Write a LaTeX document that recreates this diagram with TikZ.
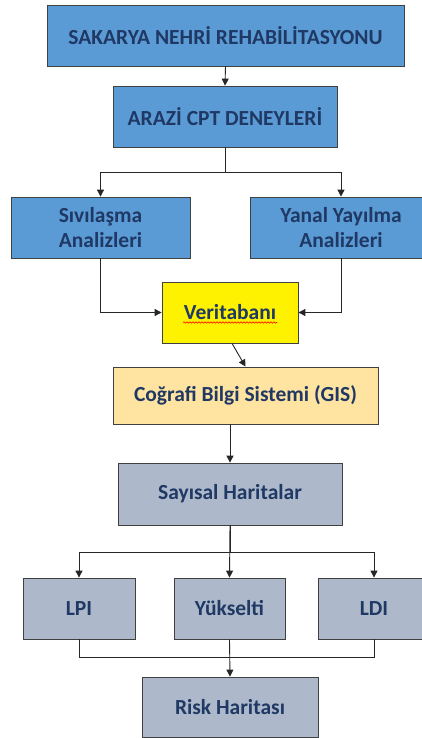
\documentclass[tikz,border=0pt]{standalone}
\usepackage{fontspec}
\setmainfont{Carlito}
\usetikzlibrary{arrows.meta, decorations.pathmorphing}

\definecolor{boxblue}{HTML}{5B9BD5}
\definecolor{gisorange}{HTML}{FFE3A0}
\definecolor{mapgray}{HTML}{ADB9CA}
\definecolor{navytext}{HTML}{1F3864}

\begin{document}
\begin{tikzpicture}[x=1pt, y=-1pt,
    box/.style={rectangle, draw=black!75, line width=0.8pt, inner sep=0pt,
                align=center, text=navytext,
                font=\fontsize{21.5}{25}\selectfont\bfseries},
    bluebox/.style={box, fill=boxblue},
    dbbox/.style={box, fill=yellow},
    gisbox/.style={box, fill=gisorange},
    mapbox/.style={box, fill=mapgray},
    conn/.style={black!85, line width=0.9pt},
    >={Triangle[length=7pt, width=7pt]}
]
\clip (0,0) rectangle (422,738);
\fill[white] (0,0) rectangle (422,738);

% --- project and field tests (top) ---
\node[bluebox, minimum width=357, minimum height=61] (sakarya) at (225.5,35.5) {SAKARYA NEHRİ REHABİLİTASYONU};
\node[bluebox, minimum width=224, minimum height=61] (arazi) at (225,116.5) {ARAZİ CPT DENEYLERİ};
\node[bluebox, minimum width=179, minimum height=61] (siv) at (100.5,227.5) {Sıvılaşma\\Analizleri};
\node[bluebox, minimum width=182, minimum height=61] (yanal) at (341,227.5) {Yanal Yayılma\\Analizleri};
\draw[conn, ->] (sakarya.south) -- (arazi.north);
\draw[conn, ->] (arazi.south) -- ++(0,25) -| (siv.north);
\draw[conn, ->] (arazi.south) -- ++(0,25) -| (yanal.north);

% --- database and GIS ---
\node[dbbox, minimum width=136, minimum height=61] (ver) at (230,312.5) {Veritabanı};
\draw[red, line width=0.6pt, decorate, decoration={snake, amplitude=0.7pt, segment length=3pt}]
    ([xshift=-47pt, yshift=-10pt]ver.center) -- ([xshift=47pt, yshift=-10pt]ver.center);
\node[gisbox, minimum width=265, minimum height=57] (gis) at (245.5,395.5) {Coğrafi Bilgi Sistemi (GIS)};
\draw[conn, ->] (siv.south) |- (ver.west);
\draw[conn, ->] (yanal.south) |- (ver.east);
\draw[conn, ->] ([xshift=2pt]ver.south) -- (gis.north);

% --- maps (bottom) ---
\node[mapbox, minimum width=224, minimum height=62] (say) at (230,494) {Sayısal Haritalar};
\node[mapbox, minimum width=112, minimum height=61] (lpi) at (79,608.5) {LPI};
\node[mapbox, minimum width=111, minimum height=61] (yuk) at (229.5,608.5) {Yükselti};
\node[mapbox, minimum width=112, minimum height=61] (ldi) at (374,608.5) {LDI};
\node[mapbox, minimum width=176, minimum height=60] (risk) at (230,707) {Risk Haritası};
\draw[conn, ->] (gis.south -| say.north) -- (say.north);
\draw[conn, ->] (say.south) -- ++(0,27) -| (lpi.north);
\draw[conn, ->] (say.south) -- ++(0,27) -| (ldi.north);
\draw[conn, ->] (say.south) -- (yuk.north);
\draw[conn] (lpi.south) -- ++(0,18) -| (ldi.south);
\draw[conn, ->] (yuk.south) -- (risk.north);

\end{tikzpicture}
\end{document}
